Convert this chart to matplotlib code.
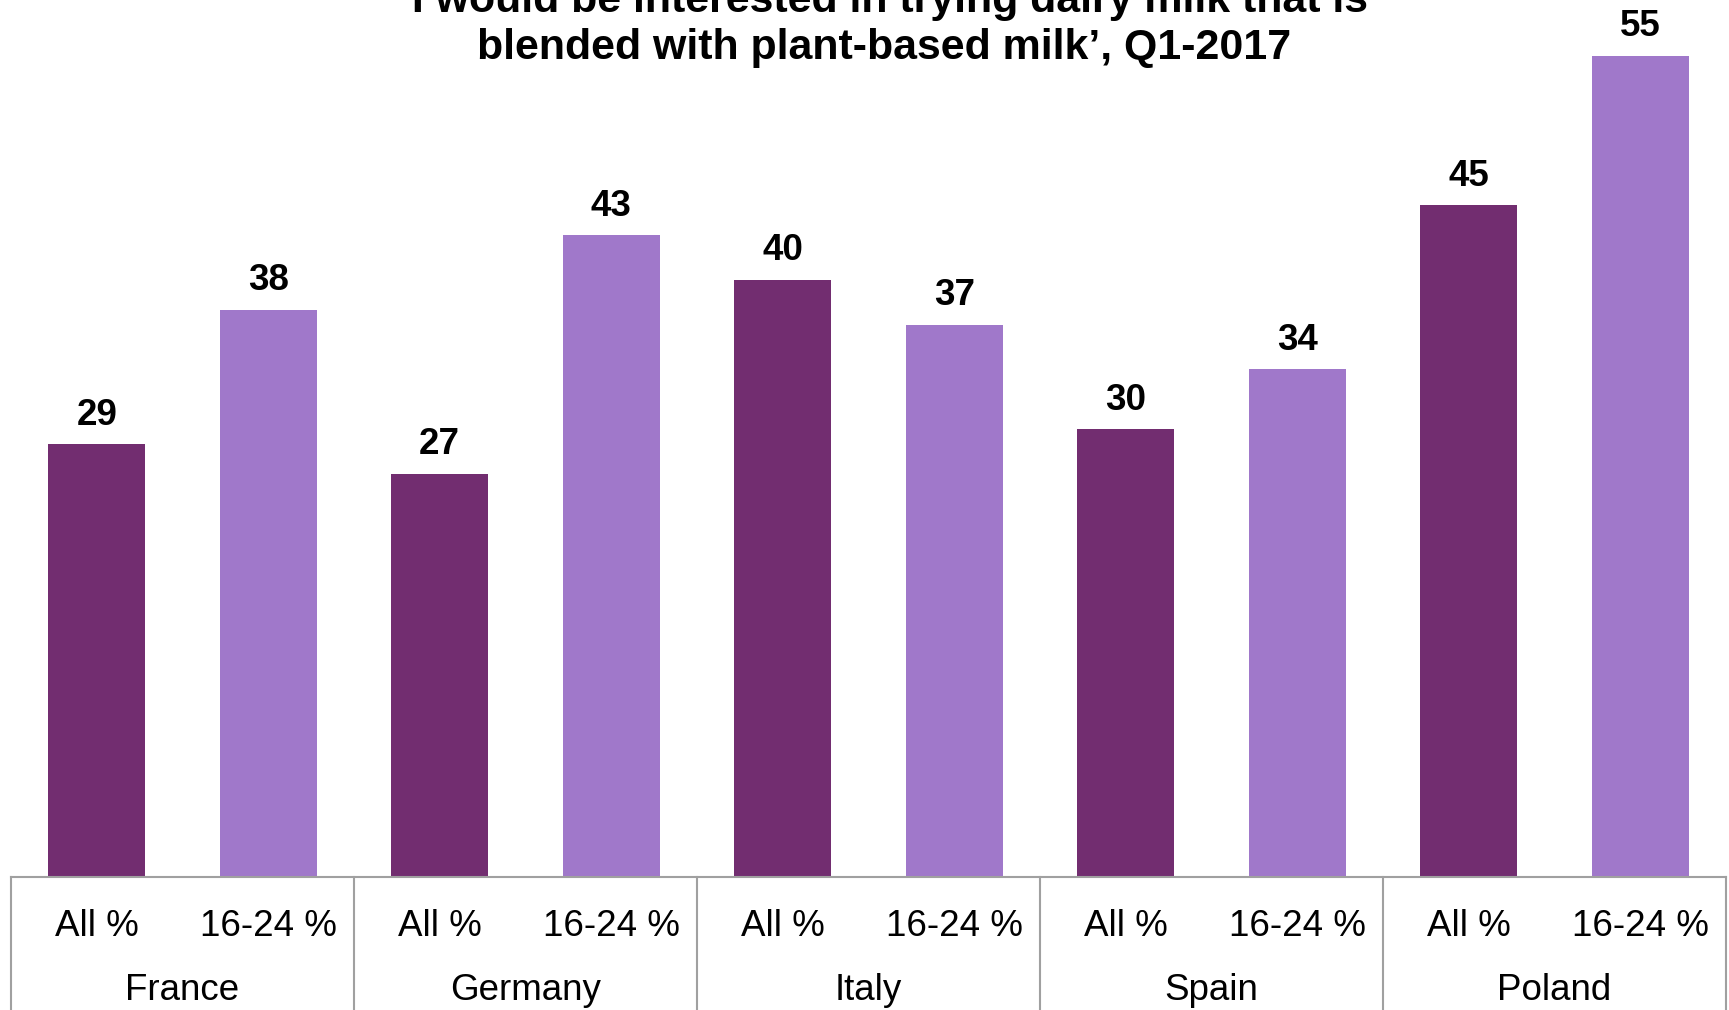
import matplotlib
matplotlib.use("Agg")
import matplotlib.pyplot as plt
from matplotlib.transforms import blended_transform_factory

plt.rcParams['font.family'] = ['Liberation Sans', 'DejaVu Sans']

countries = ["France", "Germany", "Italy", "Spain", "Poland"]
sub_labels = ["All %", "16-24 %"]
all_vals = [29, 27, 40, 30, 45]
young_vals = [38, 43, 37, 34, 55]
title_lines = ["\u2018I would be interested in trying dairy milk that is",
               "blended with plant-based milk\u2019, Q1-2017"]

dark = "#722D70"
light = "#A078CA"
grid_gray = "#A0A0A0"

W, H = 1729, 1010
fig = plt.figure(figsize=(W / 100, H / 100), dpi=100)
ax = fig.add_axes([11 / W, 1 - 877 / H, (1726 - 11) / W, 877 / H])

bw = 0.566
xs, vals, cols = [], [], []
for i in range(len(countries)):
    xs += [2 * i, 2 * i + 1]
    vals += [all_vals[i], young_vals[i]]
    cols += [dark, light]

ax.bar(xs, vals, width=bw, color=cols, zorder=2)
for x, v in zip(xs, vals):
    ax.annotate(f"{v}", (x, v), xytext=(0, 14), textcoords="offset points",
                ha="center", va="baseline", fontsize=26.5, fontweight="bold")

ax.set_xlim(-0.5, 2 * len(countries) - 0.5)
ax.set_ylim(0, 877 / 14.93)
for s in ["top", "left", "right"]:
    ax.spines[s].set_visible(False)
ax.spines["bottom"].set_color(grid_gray)
ax.spines["bottom"].set_linewidth(1.5)
ax.set_xticks([])
ax.set_yticks([])

tr_ax = blended_transform_factory(ax.transData, ax.transAxes)
tr_fig = blended_transform_factory(ax.transData, fig.transFigure)
for k in range(len(countries) + 1):
    xb = 2 * k - 0.5
    ax.plot([xb, xb], [0, -0.2], transform=tr_ax, color=grid_gray, lw=1.5,
            clip_on=False)

for x in xs:
    ax.text(x, 1 - 926 / H, sub_labels[x % 2], transform=tr_fig, ha="center",
            va="center", fontsize=26.5)
for i, c in enumerate(countries):
    ax.text(2 * i + 0.5, 1 - 991 / H, c, transform=tr_fig, ha="center",
            va="center", fontsize=26.5)

fig.text(884 / W, 1 - 12 / H, title_lines[0], ha="center", va="baseline",
         fontsize=30.9, fontweight="bold")
fig.text(884 / W, 1 - 59 / H, title_lines[1], ha="center", va="baseline",
         fontsize=30.9, fontweight="bold")

fig.savefig("out.png", dpi=100)
